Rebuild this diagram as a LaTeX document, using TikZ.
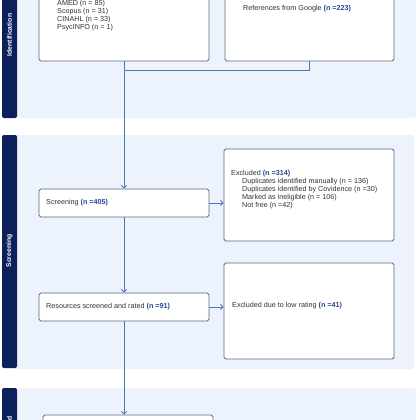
\documentclass[tikz,border=0pt]{standalone}
\usepackage{fontspec}
\setmainfont{Liberation Sans}
\usetikzlibrary{arrows.meta}
\definecolor{navy}{RGB}{12,32,92}
\definecolor{panelbg}{RGB}{237,243,252}
\definecolor{boxline}{RGB}{95,106,122}
\definecolor{link}{RGB}{74,120,184}
\definecolor{txt}{RGB}{50,50,55}
\definecolor{num}{RGB}{40,70,150}
\tikzset{
 panel/.style={fill=panelbg, rounded corners=3pt},
 phasebar/.style={fill=navy, rounded corners=2pt},
 box/.style={draw=boxline, line width=0.9pt, fill=white, rounded corners=1.8pt, rectangle, inner sep=0pt},
 lbl/.style={font=\fontsize{7.2}{8}\selectfont, text=txt, anchor=west, align=left, inner sep=0pt},
 phase/.style={font=\bfseries\fontsize{6.8}{8}\selectfont, text=white, rotate=90, inner sep=0pt},
 conn/.style={draw=link, line width=0.8pt},
 arr/.style={conn, -{Straight Barb[length=2.5pt,width=5pt]}},
}
\newcommand{\nnum}[1]{\textcolor{num}{\bfseries #1}}
\begin{document}
\begin{tikzpicture}[x=1pt,y=-1pt]
\useasboundingbox (0,0) rectangle (420,420);
\clip (0,0) rectangle (420,420);
% panels
\fill[panel] (10,-60) rectangle (416,118);
\fill[phasebar] (2,-60) rectangle (17,118);
\fill[panel] (10,135) rectangle (414,369);
\fill[phasebar] (2,135) rectangle (17,368);
\fill[panel] (10,388) rectangle (416,480);
\fill[phasebar] (2,388) rectangle (17,472);
\node[phase] (idlab) at (9.5,35) {Identification};
\node[phase] (sclab) at (9.5,251) {Screening};
\node[phase] (inlab) at (9.5,430) {Included};
% boxes
\node[box, minimum width=170pt, minimum height=101pt] (dbs) at (124,10.5) {};
\node[box, minimum width=169pt, minimum height=101pt] (google) at (309.5,10.5) {};
\node[box, minimum width=170pt, minimum height=28pt] (screen) at (124,203) {};
\node[box, minimum width=170pt, minimum height=92pt] (excl) at (309,195) {};
\node[box, minimum width=170pt, minimum height=28pt] (res) at (124,307) {};
\node[box, minimum width=170pt, minimum height=96pt] (low) at (309,311) {};
\node[box, minimum width=170pt, minimum height=60pt] (incl) at (128,445) {};
% texts
\node[lbl] (dbstxt) at (57,16) {AMED (n = 85)\\Scopus (n = 31)\\CINAHL (n = 33)\\PsycINFO (n = 1)};
\node[lbl] (googletxt) at (243,9) {References from Google \nnum{(n =223)}};
\node[lbl] (screentxt) at (46,203) {Screening \nnum{(n =405)}};
\node[lbl] (excltxt) at (231,190) {Excluded \nnum{(n =314)}\\
\hspace*{11pt}Duplicates identified manually (n = 136)\\
\hspace*{11pt}Duplicates identified by Covidence (n =30)\\
\hspace*{11pt}Marked as ineligible (n = 106)\\
\hspace*{11pt}Not free (n =42)};
\node[lbl] (restxt) at (46,307) {Resources screened and rated \nnum{(n =91)}};
\node[lbl] (lowtxt) at (232,306) {Excluded due to low rating \nnum{(n =41)}};
% connectors
\coordinate (join) at (dbs.south |- 0,70);
\draw[conn] (google.south) |- (join);
\draw[arr] (dbs.south) -- (screen.north);
\draw[arr] (screen.east) -- (excl.west |- screen.east);
\draw[arr] (screen.south) -- (res.north);
\draw[arr] (res.east) -- (low.west |- res.east);
\draw[arr] (res.south) -- (res.south |- incl.north);
\end{tikzpicture}
\end{document}
